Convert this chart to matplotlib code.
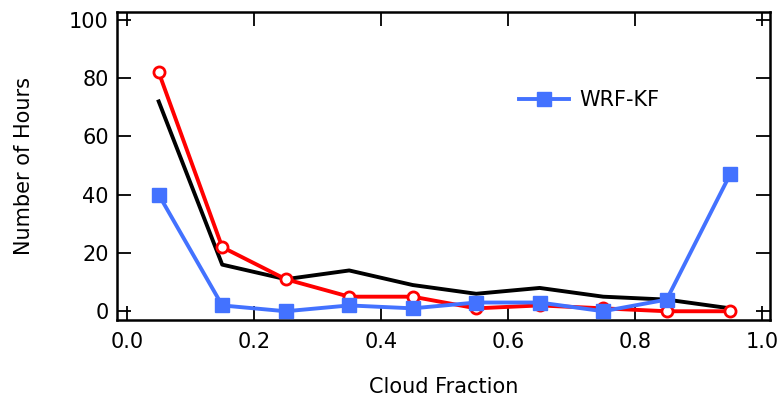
import matplotlib
matplotlib.use("Agg")
import matplotlib.pyplot as plt

# cloud fraction bin centres
cloud_fraction = [0.05, 0.15, 0.25, 0.35, 0.45, 0.55, 0.65, 0.75, 0.85, 0.95]

# hours per bin
obs_hours = [72, 16, 11, 14, 9, 6, 8, 5, 4, 1]
red_hours = [82, 22, 11, 5, 5, 1, 2, 1, 0, 0]
wrf_kf_hours = [40, 2, 0, 2, 1, 3, 3, 0, 4, 47]

x_ticks = [0.0, 0.2, 0.4, 0.6, 0.8, 1.0]
y_ticks = [0, 20, 40, 60, 80, 100]

RED = "#ff0000"
BLUE = "#4372ff"

plt.rcParams["font.family"] = ["DejaVu Sans"]

fig = plt.figure(figsize=(7.81, 3.99), dpi=100)
ax = fig.add_axes([0.1498, 0.198, 0.836, 0.772])

ax.plot(cloud_fraction, obs_hours, color="black", lw=2.8, zorder=2)
ax.plot(cloud_fraction, red_hours, color=RED, lw=2.8, marker="o", ms=8,
        mfc="white", mec=RED, mew=2, zorder=3)
ax.plot(cloud_fraction, wrf_kf_hours, color=BLUE, lw=2.8, marker="s", ms=10,
        mfc=BLUE, mec=BLUE, label="WRF-KF", zorder=4)

ax.set_xlim(-0.0157, 1.0126)
ax.set_ylim(-3.0, 102.7)
ax.set_xticks(x_ticks)
ax.set_yticks(y_ticks)
ax.set_xticklabels([f"{v:.1f}" for v in x_ticks])

ax.tick_params(direction="in", length=10, width=1.3, labelsize=15,
               top=True, right=True)
ax.tick_params(axis="x", pad=9)
ax.tick_params(axis="y", pad=6)
for s in ax.spines.values():
    s.set_linewidth(1.8)

ax.set_xlabel("Cloud Fraction", fontsize=15, labelpad=18)
ax.set_ylabel("Number of Hours", fontsize=15, labelpad=25)

ax.legend(loc="center left", bbox_to_anchor=(0.615, 0.714), frameon=False,
          fontsize=15, handlelength=2.4, handletextpad=0.5, borderpad=0,
          borderaxespad=0)

fig.savefig("out.png", dpi=100)
